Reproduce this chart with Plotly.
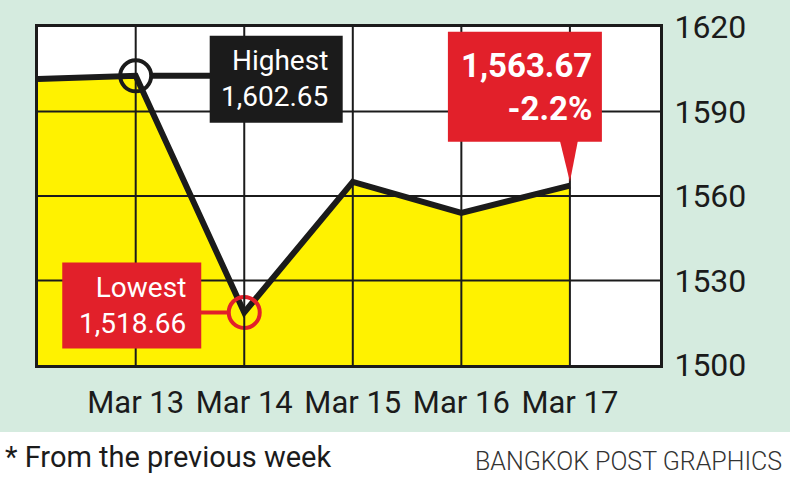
import plotly.graph_objects as go

days = ["Mar 13", "Mar 14", "Mar 15", "Mar 16", "Mar 17"]
closes = [1602.65, 1518.66, 1565.0, 1554.0, 1563.67]
prev_close = 1601.5  # previous week's close, drawn at the left edge
y_ticks = [1500, 1530, 1560, 1590, 1620]

high_label = "Highest<br>1,602.65"
low_label = "Lowest<br>1,518.66"
last_label = "<b>1,563.67<br>-2.2%</b>"
note = "* From the previous week"
credit = "BANGKOK POST GRAPHICS"

W, H = 790, 484
L, R, T, B = 38, 130, 27, 119
X_RANGE = [-0.9, 4.83]

GREEN = "#d5ebdf"
YELLOW = "#fff200"
RED = "#e2202a"
INK = "#1b1b1b"
FONT = "Roboto, Liberation Sans, sans-serif"

PW, PH = W - L - R, H - T - B


def paper_x(px):
    return (px - L) / PW


def paper_y(py):
    return (H - B - py) / PH


xs = list(range(len(days)))
i_hi = closes.index(max(closes))
i_lo = closes.index(min(closes))
i_last = len(closes) - 1

fig = go.Figure()

# yellow area + black line
fig.add_trace(
    go.Scatter(
        x=[X_RANGE[0]] + xs,
        y=[prev_close] + closes,
        mode="lines",
        line=dict(color=INK, width=6),
        fill="tozeroy",
        fillcolor=YELLOW,
        hoverinfo="skip",
    )
)

# rings on highest / lowest
fig.add_trace(
    go.Scatter(
        x=[xs[i_hi], xs[i_lo]],
        y=[closes[i_hi], closes[i_lo]],
        mode="markers",
        marker=dict(symbol="circle-open", size=31, color=[INK, RED], line=dict(width=4)),
        hoverinfo="skip",
    )
)

# grid on top of the fill
for v in xs:
    fig.add_vline(x=v, line=dict(color=INK, width=2))
for v in y_ticks[1:-1]:
    fig.add_hline(y=v, line=dict(color=INK, width=2))


def px_shape(kind, x, y, **kw):
    fig.add_shape(
        type=kind, xref="x", yref="y", xsizemode="pixel", ysizemode="pixel",
        xanchor=x, yanchor=y, **kw,
    )


# highest callout
px_shape("line", xs[i_hi], closes[i_hi], x0=16, x1=80, y0=0, y1=0,
         line=dict(color=INK, width=6))
px_shape("rect", xs[i_hi], closes[i_hi], x0=74, x1=207, y0=-47, y1=40,
         fillcolor=INK, line_width=0)
# lowest callout
px_shape("line", xs[i_lo], closes[i_lo], x0=-50, x1=-16, y0=0, y1=0,
         line=dict(color=RED, width=4))
px_shape("rect", xs[i_lo], closes[i_lo], x0=-182, x1=-43, y0=-36, y1=50,
         fillcolor=RED, line_width=0)
# last value callout with pointer
px_shape("rect", xs[i_last], closes[i_last], x0=-122, x1=32, y0=44, y1=154,
         fillcolor=RED, line_width=0)
px_shape("path", xs[i_last], closes[i_last], path="M -10,45 L 8,45 L 0,4 Z",
         fillcolor=RED, line_width=0)

fig.add_annotation(x=xs[i_hi], y=closes[i_hi], text=high_label, showarrow=False,
                   xanchor="right", yanchor="middle", align="right", xshift=194, yshift=-3,
                   font=dict(color="white", size=28, family=FONT))
fig.add_annotation(x=xs[i_lo], y=closes[i_lo], text=low_label, showarrow=False,
                   xanchor="right", yanchor="middle", align="right", xshift=-56, yshift=7,
                   font=dict(color="white", size=28, family=FONT))
fig.add_annotation(x=xs[i_last], y=closes[i_last], text=last_label, showarrow=False,
                   xanchor="right", yanchor="middle", align="right", xshift=24, yshift=99,
                   font=dict(color="white", size=33, family=FONT))

# white strip for footnotes
fig.add_shape(type="rect", xref="paper", yref="paper", layer="below",
              x0=paper_x(0), x1=paper_x(W), y0=paper_y(H), y1=paper_y(432),
              fillcolor="white", line_width=0)
fig.add_annotation(xref="paper", yref="paper", x=paper_x(3), y=paper_y(457), text=note,
                   showarrow=False, xanchor="left", yanchor="middle",
                   font=dict(color=INK, size=29, family=FONT))
fig.add_annotation(xref="paper", yref="paper", x=paper_x(784), y=paper_y(461), text=credit,
                   showarrow=False, xanchor="right", yanchor="middle",
                   font=dict(color="#333333", size=25, family=FONT, weight=300))

fig.update_xaxes(
    range=X_RANGE, tickvals=xs, ticktext=days, showgrid=False, zeroline=False,
    showline=True, mirror=True, linecolor=INK, linewidth=3, ticks="", tickangle=0,
    automargin=False, ticklabelstandoff=8, tickfont=dict(size=31, color=INK, family=FONT),
)
fig.update_yaxes(
    range=[y_ticks[0], y_ticks[-1]], tickvals=y_ticks, side="right", showgrid=False,
    zeroline=False, showline=True, mirror=True, linecolor=INK, linewidth=3, ticks="",
    automargin=False, ticklabelstandoff=5, tickfont=dict(size=32, color=INK, family=FONT),
)
fig.update_layout(
    width=W, height=H, margin=dict(l=L, r=R, t=T, b=B),
    paper_bgcolor=GREEN, plot_bgcolor="white", showlegend=False,
)

fig.write_html("out.html", config={"displayModeBar": False},
               post_script="document.body.style.margin='0';")
